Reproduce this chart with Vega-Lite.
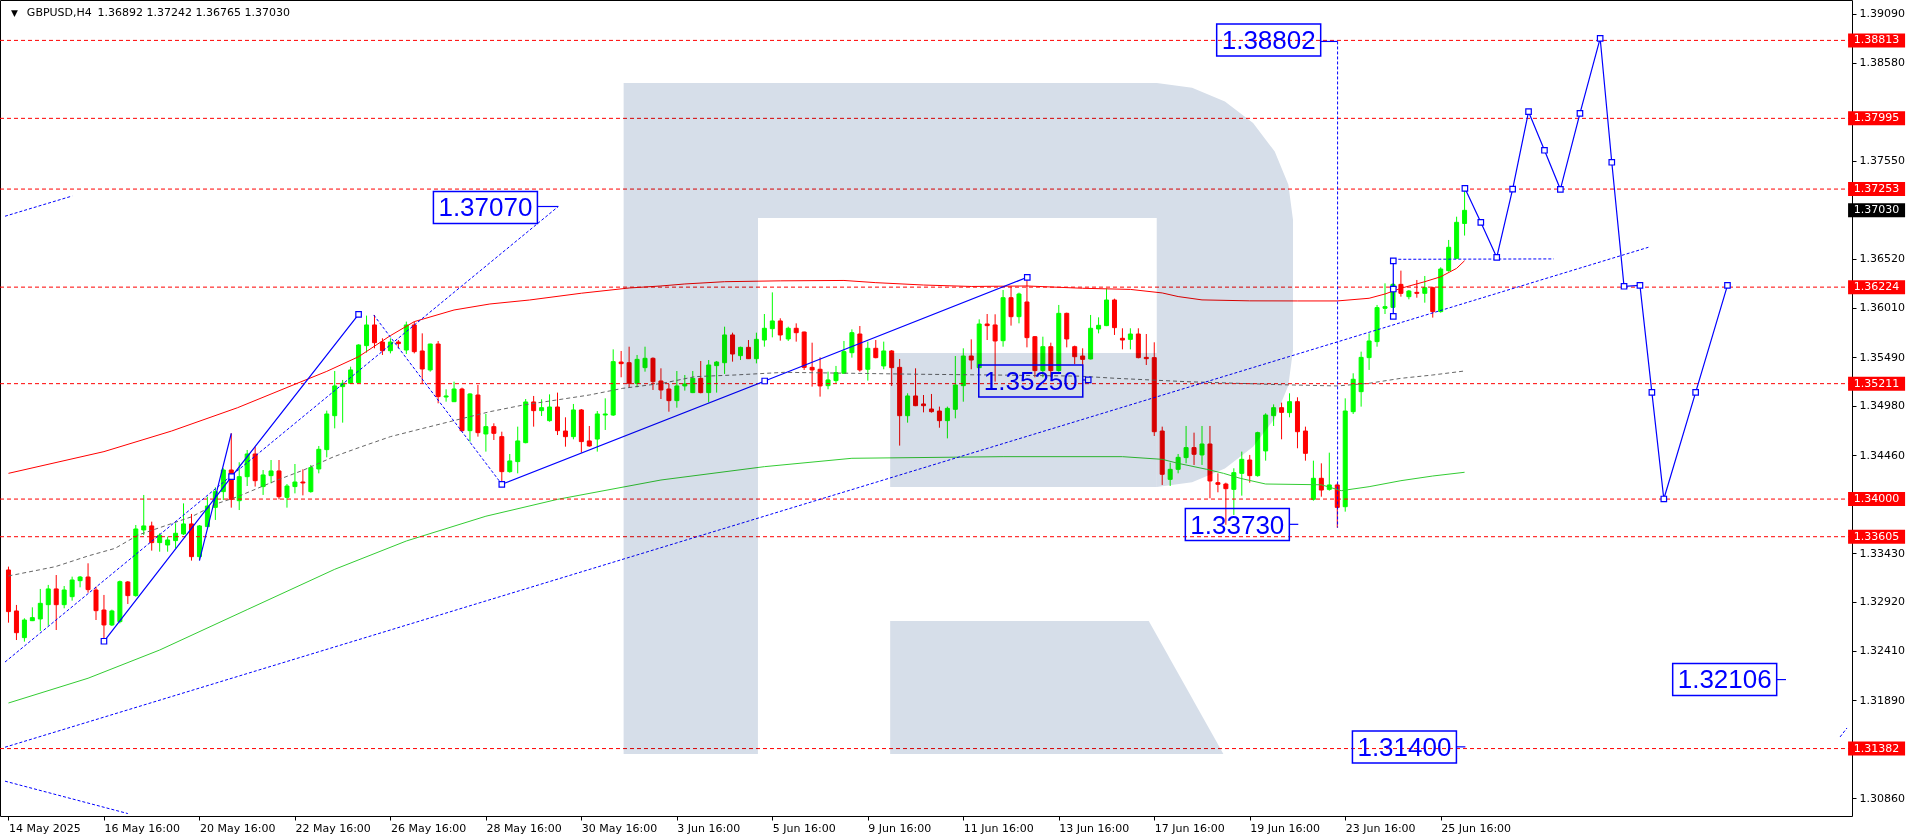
{
  "$schema": "https://vega.github.io/schema/vega-lite/v6.json",
  "width": 1852,
  "height": 816,
  "autosize": {"type": "none"},
  "padding": {"left": 0, "top": 0, "right": 64, "bottom": 24},
  "background": "white",
  "config": {
    "view": {"stroke": "#000000", "strokeWidth": 1},
    "axis": {"grid": false, "domain": false, "tickSize": 4, "tickColor": "#000000", "labelFont": "DejaVu Sans", "labelFontSize": 11, "labelColor": "#000000", "labelFlush": false, "labelOverlap": false},
    "axisX": {"labelAlign": "left", "labelPadding": 2, "labelBaseline": "top"},
    "axisY": {"labelPadding": 3}
  },
  "datasets": {
    "candles": [
      {"i":0,"o":1.33256,"h":1.33291,"l":1.32703,"c":1.32819},
      {"i":1,"o":1.32826,"h":1.32889,"l":1.32521,"c":1.32598},
      {"i":2,"o":1.32546,"h":1.32749,"l":1.32504,"c":1.32731},
      {"i":3,"o":1.32724,"h":1.32864,"l":1.32720,"c":1.32756},
      {"i":4,"o":1.32742,"h":1.33057,"l":1.32616,"c":1.32906},
      {"i":5,"o":1.32892,"h":1.33099,"l":1.32672,"c":1.33057},
      {"i":6,"o":1.33057,"h":1.33203,"l":1.32626,"c":1.32892},
      {"i":7,"o":1.32892,"h":1.33088,"l":1.32854,"c":1.33046},
      {"i":8,"o":1.32976,"h":1.33186,"l":1.32934,"c":1.33151},
      {"i":9,"o":1.33144,"h":1.33193,"l":1.33074,"c":1.33182},
      {"i":10,"o":1.33182,"h":1.33326,"l":1.33018,"c":1.33050},
      {"i":11,"o":1.33046,"h":1.33081,"l":1.32731,"c":1.32829},
      {"i":12,"o":1.32836,"h":1.32994,"l":1.32521,"c":1.32679},
      {"i":13,"o":1.32679,"h":1.32840,"l":1.32668,"c":1.32826},
      {"i":14,"o":1.32714,"h":1.33145,"l":1.32696,"c":1.33133},
      {"i":15,"o":1.33130,"h":1.33140,"l":1.32899,"c":1.32987},
      {"i":16,"o":1.32987,"h":1.33728,"l":1.32976,"c":1.33686},
      {"i":17,"o":1.33676,"h":1.34043,"l":1.33623,"c":1.33718},
      {"i":18,"o":1.33718,"h":1.33763,"l":1.33459,"c":1.33543},
      {"i":19,"o":1.33543,"h":1.33641,"l":1.33448,"c":1.33620},
      {"i":20,"o":1.33518,"h":1.33606,"l":1.33448,"c":1.33571},
      {"i":21,"o":1.33564,"h":1.33746,"l":1.33483,"c":1.33641},
      {"i":22,"o":1.33634,"h":1.33955,"l":1.33623,"c":1.33739},
      {"i":23,"o":1.33739,"h":1.33844,"l":1.33354,"c":1.33396},
      {"i":24,"o":1.33396,"h":1.33728,"l":1.33361,"c":1.33718},
      {"i":25,"o":1.33711,"h":1.34025,"l":1.33704,"c":1.33927},
      {"i":26,"o":1.33913,"h":1.34123,"l":1.33781,"c":1.34078},
      {"i":27,"o":1.34078,"h":1.34323,"l":1.33990,"c":1.34305},
      {"i":28,"o":1.34305,"h":1.34690,"l":1.33910,"c":1.33997},
      {"i":29,"o":1.33983,"h":1.34386,"l":1.33885,"c":1.34235},
      {"i":30,"o":1.34235,"h":1.34515,"l":1.34137,"c":1.34473},
      {"i":31,"o":1.34473,"h":1.34550,"l":1.34131,"c":1.34193},
      {"i":32,"o":1.34131,"h":1.34305,"l":1.34043,"c":1.34253},
      {"i":33,"o":1.34246,"h":1.34410,"l":1.34165,"c":1.34295},
      {"i":34,"o":1.34295,"h":1.34410,"l":1.33997,"c":1.34025},
      {"i":35,"o":1.34018,"h":1.34158,"l":1.33910,"c":1.34137},
      {"i":36,"o":1.34131,"h":1.34368,"l":1.34060,"c":1.34179},
      {"i":37,"o":1.34179,"h":1.34312,"l":1.34039,"c":1.34169},
      {"i":38,"o":1.34078,"h":1.34358,"l":1.34067,"c":1.34330},
      {"i":39,"o":1.34316,"h":1.34557,"l":1.34270,"c":1.34522},
      {"i":40,"o":1.34519,"h":1.34928,"l":1.34438,"c":1.34893},
      {"i":41,"o":1.34875,"h":1.35344,"l":1.34742,"c":1.35187},
      {"i":42,"o":1.35180,"h":1.35250,"l":1.34802,"c":1.35215},
      {"i":43,"o":1.35215,"h":1.35389,"l":1.35208,"c":1.35355},
      {"i":44,"o":1.35222,"h":1.35624,"l":1.35215,"c":1.35617},
      {"i":45,"o":1.35610,"h":1.35925,"l":1.35536,"c":1.35827},
      {"i":46,"o":1.35827,"h":1.35932,"l":1.35582,"c":1.35641},
      {"i":47,"o":1.35648,"h":1.35687,"l":1.35512,"c":1.35557},
      {"i":48,"o":1.35557,"h":1.35687,"l":1.35529,"c":1.35648},
      {"i":49,"o":1.35648,"h":1.35669,"l":1.35582,"c":1.35631},
      {"i":50,"o":1.35564,"h":1.35862,"l":1.35522,"c":1.35827},
      {"i":51,"o":1.35827,"h":1.35862,"l":1.35529,"c":1.35547},
      {"i":52,"o":1.35554,"h":1.35739,"l":1.35215,"c":1.35365},
      {"i":53,"o":1.35355,"h":1.35630,"l":1.35337,"c":1.35627},
      {"i":54,"o":1.35627,"h":1.35659,"l":1.35005,"c":1.35075},
      {"i":55,"o":1.35071,"h":1.35152,"l":1.35022,"c":1.35082},
      {"i":56,"o":1.35022,"h":1.35232,"l":1.35018,"c":1.35155},
      {"i":57,"o":1.35155,"h":1.35169,"l":1.34707,"c":1.34718},
      {"i":58,"o":1.34718,"h":1.35110,"l":1.34603,"c":1.35103},
      {"i":59,"o":1.35092,"h":1.35197,"l":1.34655,"c":1.34697},
      {"i":60,"o":1.34683,"h":1.34893,"l":1.34498,"c":1.34760},
      {"i":61,"o":1.34760,"h":1.34795,"l":1.34620,"c":1.34690},
      {"i":62,"o":1.34655,"h":1.34707,"l":1.34160,"c":1.34288},
      {"i":63,"o":1.34288,"h":1.34473,"l":1.34277,"c":1.34400},
      {"i":64,"o":1.34393,"h":1.34760,"l":1.34270,"c":1.34610},
      {"i":65,"o":1.34592,"h":1.35050,"l":1.34585,"c":1.35019},
      {"i":66,"o":1.35019,"h":1.35082,"l":1.34760,"c":1.34928},
      {"i":67,"o":1.34928,"h":1.35047,"l":1.34872,"c":1.34959},
      {"i":68,"o":1.34823,"h":1.35099,"l":1.34812,"c":1.34966},
      {"i":69,"o":1.34966,"h":1.35117,"l":1.34672,"c":1.34718},
      {"i":70,"o":1.34714,"h":1.34858,"l":1.34550,"c":1.34655},
      {"i":71,"o":1.34655,"h":1.34998,"l":1.34627,"c":1.34935},
      {"i":72,"o":1.34935,"h":1.34945,"l":1.34487,"c":1.34603},
      {"i":73,"o":1.34610,"h":1.34767,"l":1.34550,"c":1.34557},
      {"i":74,"o":1.34630,"h":1.34924,"l":1.34498,"c":1.34893},
      {"i":75,"o":1.34882,"h":1.35057,"l":1.34725,"c":1.34893},
      {"i":76,"o":1.34882,"h":1.35571,"l":1.34872,"c":1.35442},
      {"i":77,"o":1.35438,"h":1.35554,"l":1.35278,"c":1.35421},
      {"i":78,"o":1.35431,"h":1.35599,"l":1.35169,"c":1.35215},
      {"i":79,"o":1.35215,"h":1.35512,"l":1.35173,"c":1.35466},
      {"i":80,"o":1.35379,"h":1.35599,"l":1.35337,"c":1.35477},
      {"i":81,"o":1.35477,"h":1.35487,"l":1.35145,"c":1.35232},
      {"i":82,"o":1.35239,"h":1.35372,"l":1.35050,"c":1.35145},
      {"i":83,"o":1.35155,"h":1.35208,"l":1.34917,"c":1.35033},
      {"i":84,"o":1.35033,"h":1.35344,"l":1.34959,"c":1.35187},
      {"i":85,"o":1.35187,"h":1.35302,"l":1.35138,"c":1.35208},
      {"i":86,"o":1.35117,"h":1.35344,"l":1.35112,"c":1.35267},
      {"i":87,"o":1.35267,"h":1.35449,"l":1.35110,"c":1.35117},
      {"i":88,"o":1.35117,"h":1.35459,"l":1.35015,"c":1.35407},
      {"i":89,"o":1.35400,"h":1.35449,"l":1.35117,"c":1.35438},
      {"i":90,"o":1.35431,"h":1.35809,"l":1.35313,"c":1.35722},
      {"i":91,"o":1.35722,"h":1.35746,"l":1.35442,"c":1.35522},
      {"i":92,"o":1.35505,"h":1.35599,"l":1.35459,"c":1.35592},
      {"i":93,"o":1.35592,"h":1.35669,"l":1.35470,"c":1.35473},
      {"i":94,"o":1.35473,"h":1.35746,"l":1.35424,"c":1.35676},
      {"i":95,"o":1.35669,"h":1.35942,"l":1.35599,"c":1.35792},
      {"i":96,"o":1.35788,"h":1.36169,"l":1.35697,"c":1.35869},
      {"i":97,"o":1.35869,"h":1.35897,"l":1.35662,"c":1.35722},
      {"i":98,"o":1.35680,"h":1.35809,"l":1.35659,"c":1.35792},
      {"i":99,"o":1.35792,"h":1.35844,"l":1.35652,"c":1.35746},
      {"i":100,"o":1.35753,"h":1.35757,"l":1.35355,"c":1.35382},
      {"i":101,"o":1.35382,"h":1.35641,"l":1.35180,"c":1.35355},
      {"i":102,"o":1.35362,"h":1.35487,"l":1.35075,"c":1.35187},
      {"i":103,"o":1.35190,"h":1.35337,"l":1.35152,"c":1.35250},
      {"i":104,"o":1.35243,"h":1.35397,"l":1.35208,"c":1.35327},
      {"i":105,"o":1.35320,"h":1.35659,"l":1.35313,"c":1.35547},
      {"i":106,"o":1.35536,"h":1.35781,"l":1.35484,"c":1.35746},
      {"i":107,"o":1.35732,"h":1.35816,"l":1.35337,"c":1.35355},
      {"i":108,"o":1.35362,"h":1.35652,"l":1.35243,"c":1.35582},
      {"i":109,"o":1.35582,"h":1.35669,"l":1.35477,"c":1.35484},
      {"i":110,"o":1.35397,"h":1.35652,"l":1.35362,"c":1.35554},
      {"i":111,"o":1.35554,"h":1.35564,"l":1.35187,"c":1.35379},
      {"i":112,"o":1.35382,"h":1.35470,"l":1.34561,"c":1.34875},
      {"i":113,"o":1.34875,"h":1.35110,"l":1.34802,"c":1.35082},
      {"i":114,"o":1.35082,"h":1.35372,"l":1.34975,"c":1.34980},
      {"i":115,"o":1.34998,"h":1.35092,"l":1.34910,"c":1.34980},
      {"i":116,"o":1.34945,"h":1.35103,"l":1.34907,"c":1.34917},
      {"i":117,"o":1.34924,"h":1.34970,"l":1.34749,"c":1.34823},
      {"i":118,"o":1.34823,"h":1.34970,"l":1.34637,"c":1.34952},
      {"i":119,"o":1.34942,"h":1.35501,"l":1.34847,"c":1.35197},
      {"i":120,"o":1.35190,"h":1.35582,"l":1.35022,"c":1.35501},
      {"i":121,"o":1.35501,"h":1.35676,"l":1.35362,"c":1.35459},
      {"i":122,"o":1.35379,"h":1.35886,"l":1.35375,"c":1.35837},
      {"i":123,"o":1.35837,"h":1.35942,"l":1.35669,"c":1.35820},
      {"i":124,"o":1.35827,"h":1.35939,"l":1.35232,"c":1.35659},
      {"i":125,"o":1.35662,"h":1.36194,"l":1.35599,"c":1.36113},
      {"i":126,"o":1.36113,"h":1.36229,"l":1.35820,"c":1.35914},
      {"i":127,"o":1.35914,"h":1.36166,"l":1.35844,"c":1.36152},
      {"i":128,"o":1.36068,"h":1.36327,"l":1.35592,"c":1.35694},
      {"i":129,"o":1.35704,"h":1.35711,"l":1.35278,"c":1.35348},
      {"i":130,"o":1.35348,"h":1.35704,"l":1.35278,"c":1.35599},
      {"i":131,"o":1.35599,"h":1.35641,"l":1.35278,"c":1.35348},
      {"i":132,"o":1.35348,"h":1.36037,"l":1.35337,"c":1.35949},
      {"i":133,"o":1.35949,"h":1.35956,"l":1.35592,"c":1.35680},
      {"i":134,"o":1.35599,"h":1.35610,"l":1.35417,"c":1.35494},
      {"i":135,"o":1.35501,"h":1.35582,"l":1.35348,"c":1.35466},
      {"i":136,"o":1.35470,"h":1.35932,"l":1.35466,"c":1.35792},
      {"i":137,"o":1.35785,"h":1.35907,"l":1.35739,"c":1.35823},
      {"i":138,"o":1.35820,"h":1.36211,"l":1.35815,"c":1.36089},
      {"i":139,"o":1.36089,"h":1.36103,"l":1.35722,"c":1.35799},
      {"i":140,"o":1.35687,"h":1.35792,"l":1.35571,"c":1.35669},
      {"i":141,"o":1.35676,"h":1.35792,"l":1.35571,"c":1.35732},
      {"i":142,"o":1.35732,"h":1.35792,"l":1.35477,"c":1.35484},
      {"i":143,"o":1.35487,"h":1.35732,"l":1.35407,"c":1.35473},
      {"i":144,"o":1.35484,"h":1.35645,"l":1.34662,"c":1.34707},
      {"i":145,"o":1.34714,"h":1.34760,"l":1.34148,"c":1.34260},
      {"i":146,"o":1.34207,"h":1.34382,"l":1.34137,"c":1.34312},
      {"i":147,"o":1.34312,"h":1.34473,"l":1.34270,"c":1.34438},
      {"i":148,"o":1.34435,"h":1.34767,"l":1.34375,"c":1.34540},
      {"i":149,"o":1.34540,"h":1.34697,"l":1.34358,"c":1.34470},
      {"i":150,"o":1.34463,"h":1.34767,"l":1.34358,"c":1.34578},
      {"i":151,"o":1.34578,"h":1.34767,"l":1.34008,"c":1.34190},
      {"i":152,"o":1.34172,"h":1.34270,"l":1.34071,"c":1.34155},
      {"i":153,"o":1.34158,"h":1.34172,"l":1.33730,"c":1.34109},
      {"i":154,"o":1.34102,"h":1.34323,"l":1.33833,"c":1.34277},
      {"i":155,"o":1.34270,"h":1.34498,"l":1.34036,"c":1.34417},
      {"i":156,"o":1.34410,"h":1.34463,"l":1.34172,"c":1.34246},
      {"i":157,"o":1.34246,"h":1.34707,"l":1.34235,"c":1.34697},
      {"i":158,"o":1.34505,"h":1.34900,"l":1.34403,"c":1.34882},
      {"i":159,"o":1.34875,"h":1.34994,"l":1.34767,"c":1.34959},
      {"i":160,"o":1.34959,"h":1.35012,"l":1.34627,"c":1.34910},
      {"i":161,"o":1.34907,"h":1.35110,"l":1.34858,"c":1.35022},
      {"i":162,"o":1.35022,"h":1.35068,"l":1.34533,"c":1.34707},
      {"i":163,"o":1.34714,"h":1.34760,"l":1.34403,"c":1.34480},
      {"i":164,"o":1.33997,"h":1.34403,"l":1.33983,"c":1.34218},
      {"i":165,"o":1.34218,"h":1.34375,"l":1.34025,"c":1.34095},
      {"i":166,"o":1.34102,"h":1.34487,"l":1.34088,"c":1.34148},
      {"i":167,"o":1.34148,"h":1.34165,"l":1.33700,"c":1.33913},
      {"i":168,"o":1.33920,"h":1.35057,"l":1.33868,"c":1.34924},
      {"i":169,"o":1.34917,"h":1.35320,"l":1.34893,"c":1.35257},
      {"i":170,"o":1.35127,"h":1.35547,"l":1.34970,"c":1.35487},
      {"i":171,"o":1.35484,"h":1.35739,"l":1.35355,"c":1.35659},
      {"i":172,"o":1.35652,"h":1.36037,"l":1.35599,"c":1.36009},
      {"i":173,"o":1.36002,"h":1.36264,"l":1.35942,"c":1.36019},
      {"i":174,"o":1.36012,"h":1.36264,"l":1.36005,"c":1.36253},
      {"i":175,"o":1.36253,"h":1.36397,"l":1.36124,"c":1.36159},
      {"i":176,"o":1.36124,"h":1.36194,"l":1.36096,"c":1.36183},
      {"i":177,"o":1.36169,"h":1.36299,"l":1.36113,"c":1.36159},
      {"i":178,"o":1.36159,"h":1.36341,"l":1.36061,"c":1.36218},
      {"i":179,"o":1.36218,"h":1.36229,"l":1.35904,"c":1.35967},
      {"i":180,"o":1.35967,"h":1.36432,"l":1.35956,"c":1.36414},
      {"i":181,"o":1.36397,"h":1.36719,"l":1.36386,"c":1.36642},
      {"i":182,"o":1.36526,"h":1.36963,"l":1.36520,"c":1.36904},
      {"i":183,"o":1.36892,"h":1.37242,"l":1.36765,"c":1.37030}
    ],
    "redma": [
      {"i":0,"v":1.34270},{"i":12,"v":1.34498},{"i":20.5,"v":1.34714},{"i":28.8,"v":1.34959},{"i":36.3,"v":1.35215},{"i":40,"v":1.35340},{"i":44,"v":1.35494},{"i":48,"v":1.35715},{"i":51,"v":1.35862},{"i":56,"v":1.35984},{"i":60.5,"v":1.36047},{"i":65.5,"v":1.36089},{"i":72,"v":1.36160},{"i":78,"v":1.36215},{"i":82,"v":1.36236},{"i":85,"v":1.36257},{"i":90,"v":1.36281},{"i":97,"v":1.36290},{"i":105,"v":1.36294},{"i":109,"v":1.36271},{"i":115,"v":1.36246},{"i":121,"v":1.36231},{"i":128,"v":1.36236},{"i":135,"v":1.36212},{"i":141,"v":1.36200},{"i":145,"v":1.36163},{"i":147,"v":1.36125},{"i":150,"v":1.36090},{"i":156,"v":1.36080},{"i":162,"v":1.36079},{"i":167,"v":1.36079},{"i":171,"v":1.36107},{"i":173,"v":1.36152},{"i":175,"v":1.36212},{"i":178,"v":1.36281},{"i":180,"v":1.36333},{"i":182,"v":1.36421},{"i":183,"v":1.36501}
    ],
    "greenma": [
      {"i":0,"v":1.31860},{"i":10,"v":1.32120},{"i":19,"v":1.32416},{"i":30,"v":1.32840},{"i":41,"v":1.33263},{"i":50,"v":1.33560},{"i":60,"v":1.33820},{"i":69,"v":1.33997},{"i":82,"v":1.34200},{"i":95,"v":1.34340},{"i":106,"v":1.34428},{"i":125,"v":1.34445},{"i":140,"v":1.34445},{"i":145,"v":1.34417},{"i":147,"v":1.34375},{"i":150.6,"v":1.34312},{"i":152.7,"v":1.34270},{"i":154.8,"v":1.34218},{"i":158,"v":1.34158},{"i":165,"v":1.34150},{"i":167.5,"v":1.34088},{"i":171,"v":1.34130},{"i":175,"v":1.34193},{"i":179,"v":1.34242},{"i":183,"v":1.34281}
    ],
    "grayma": [
      {"i":0,"v":1.33193},{"i":5.9,"v":1.33291},{"i":10,"v":1.33403},{"i":13.4,"v":1.33483},{"i":16.3,"v":1.33623},{"i":23,"v":1.33814},{"i":26.3,"v":1.33955},{"i":28.8,"v":1.34025},{"i":33.8,"v":1.34200},{"i":37.1,"v":1.34305},{"i":40.9,"v":1.34445},{"i":43.8,"v":1.34533},{"i":48,"v":1.34655},{"i":52.1,"v":1.34742},{"i":56.3,"v":1.34830},{"i":60.5,"v":1.34917},{"i":64.7,"v":1.34987},{"i":68.9,"v":1.35040},{"i":73,"v":1.35092},{"i":77.2,"v":1.35162},{"i":82.2,"v":1.35215},{"i":86.3,"v":1.35285},{"i":91.3,"v":1.35302},{"i":97.5,"v":1.35330},{"i":105.9,"v":1.35320},{"i":114.2,"v":1.35310},{"i":124,"v":1.35302},{"i":134.6,"v":1.35290},{"i":139.2,"v":1.35267},{"i":148,"v":1.35232},{"i":160,"v":1.35200},{"i":167,"v":1.35187},{"i":171,"v":1.35215},{"i":175,"v":1.35267},{"i":179,"v":1.35302},{"i":183,"v":1.35344}
    ],
    "levels": [
      {"lv":1.38813},{"lv":1.37995},{"lv":1.37253},{"lv":1.36224},{"lv":1.35211},{"lv":1.34000},{"lv":1.33605},{"lv":1.31382}
    ],
    "current": [{"lv":1.37030}],
    "bdash": [
      {"id":"trend","i":-0.4375,"v":1.31396},{"id":"trend","i":206.1,"v":1.36642},
      {"id":"up","i":-0.4375,"v":1.36968},{"id":"up","i":8,"v":1.37180},
      {"id":"low","i":-0.4375,"v":1.31040},{"id":"low","i":15,"v":1.30700},
      {"id":"l137","i":-0.4375,"v":1.32290},{"id":"l137","i":69.1,"v":1.37070},
      {"id":"desc","i":45.9,"v":1.35932},{"id":"desc","i":62,"v":1.34155},
      {"id":"hz","i":174.04,"v":1.36516},{"id":"hz","i":194.2,"v":1.36520},
      {"id":"vt","i":167.04,"v":1.38802},{"id":"vt","i":167.04,"v":1.33700},
      {"id":"rx","i":230.19,"v":1.31504},{"id":"rx","i":231.06,"v":1.31598}
    ],
    "bsolid": [
      {"id":"L1","i":12,"v":1.32508},{"id":"L1","i":28.04,"v":1.34235},{"id":"L1","i":44,"v":1.35939},
      {"id":"L2","i":24,"v":1.33354},{"id":"L2","i":28,"v":1.34690},
      {"id":"L3","i":62,"v":1.34155},{"id":"L3","i":95.04,"v":1.35239},{"id":"L3","i":128.04,"v":1.36327},
      {"id":"V","i":174.04,"v":1.35918},{"id":"V","i":174.04,"v":1.36204},{"id":"V","i":174.04,"v":1.36500},
      {"id":"F","i":183.04,"v":1.37261},{"id":"F","i":185.04,"v":1.36904},{"id":"F","i":187.04,"v":1.36537},{"id":"F","i":189.04,"v":1.37253},{"id":"F","i":191.04,"v":1.38065},{"id":"F","i":193.04,"v":1.37660},{"id":"F","i":195.04,"v":1.37250},{"id":"F","i":197.5,"v":1.38047},{"id":"F","i":200.04,"v":1.38835},{"id":"F","i":201.5,"v":1.37534},{"id":"F","i":203.04,"v":1.36233},{"id":"F","i":205.04,"v":1.36243},{"id":"F","i":206.54,"v":1.35120},{"id":"F","i":208.04,"v":1.34001},{"id":"F","i":212.04,"v":1.35120},{"id":"F","i":216.04,"v":1.36243},
      {"id":"a","i":66.44,"v":1.37070},{"id":"a","i":69.1,"v":1.37070},
      {"id":"b","i":134.94,"v":1.35250},{"id":"b","i":135.7,"v":1.35250},
      {"id":"c","i":160.94,"v":1.33735},{"id":"c","i":162.1,"v":1.33735},
      {"id":"d","i":164.9,"v":1.38802},{"id":"d","i":167.04,"v":1.38802},
      {"id":"e","i":222.19,"v":1.32106},{"id":"e","i":223.4,"v":1.32106},
      {"id":"f","i":181.94,"v":1.31400},{"id":"f","i":183.1,"v":1.31400}
    ],
    "bsq": [
      {"i":12,"v":1.32508},{"i":28.04,"v":1.34235},{"i":44,"v":1.35939},
      {"i":62,"v":1.34155},{"i":95.04,"v":1.35239},{"i":128.04,"v":1.36327},
      {"i":174.04,"v":1.35918},{"i":174.04,"v":1.36204},{"i":174.04,"v":1.36500},
      {"i":183.04,"v":1.37261},{"i":185.04,"v":1.36904},{"i":187.04,"v":1.36537},{"i":189.04,"v":1.37253},{"i":191.04,"v":1.38065},{"i":193.04,"v":1.37660},{"i":195.04,"v":1.37250},{"i":197.5,"v":1.38047},{"i":200.04,"v":1.38835},{"i":201.5,"v":1.37534},{"i":203.04,"v":1.36233},{"i":205.04,"v":1.36243},{"i":206.54,"v":1.35120},{"i":208.04,"v":1.34001},{"i":212.04,"v":1.35120},{"i":216.04,"v":1.36243},
      {"i":135.7,"v":1.35250}
    ],
    "tbox": [
      {"t":"1.37070","i":59.94,"v":1.37060},
      {"t":"1.35250","i":128.48,"v":1.35239},
      {"t":"1.33730","i":154.44,"v":1.33733},
      {"t":"1.38802","i":158.38,"v":1.38817},
      {"t":"1.32106","i":215.69,"v":1.32107},
      {"t":"1.31400","i":175.44,"v":1.31398}
    ],
    "wm": [
      {"part":"A","i":77.31,"top":1.38366,"bot":1.31325},
      {"part":"A","i":94.19,"top":1.38366,"bot":1.31325},
      {"part":"A","i":94.2,"top":1.38366,"bot":1.36949},
      {"part":"A","i":144.31,"top":1.38366,"bot":1.36949},
      {"part":"A","i":144.32,"top":1.38366,"bot":1.34127},
      {"part":"A","i":148.75,"top":1.38317,"bot":1.34176},
      {"part":"A","i":152.88,"top":1.38173,"bot":1.34320},
      {"part":"A","i":156.42,"top":1.37945,"bot":1.34548},
      {"part":"A","i":159.14,"top":1.37647,"bot":1.34846},
      {"part":"A","i":160.85,"top":1.37301,"bot":1.35192},
      {"part":"A","i":161.44,"top":1.36928,"bot":1.35564},
      {"part":"B","i":110.81,"top":1.35533,"bot":1.34127},
      {"part":"B","i":144.31,"top":1.35533,"bot":1.34127},
      {"part":"C","i":110.81,"top":1.32721,"bot":1.31325},
      {"part":"C","i":143.31,"top":1.32721,"bot":1.31325},
      {"part":"C","i":152.69,"top":1.31325,"bot":1.31325}
    ]
  },
  "layer": [
    {
      "data": {"name": "candles"},
      "mark": {"type": "rule", "strokeWidth": 1},
      "encoding": {
        "x": {"field": "i", "type": "quantitative", "scale": {"domain": [-0.4375, 231.0625], "nice": false, "zero": false},
          "axis": {"orient": "bottom", "title": null, "values": [0,12,24,36,48,60,72,84,96,108,120,132,144,156,168,180], "labelExpr": "['14 May 2025','16 May 16:00','20 May 16:00','22 May 16:00','26 May 16:00','28 May 16:00','30 May 16:00','3 Jun 16:00','5 Jun 16:00','9 Jun 16:00','11 Jun 16:00','13 Jun 16:00','17 Jun 16:00','19 Jun 16:00','23 Jun 16:00','25 Jun 16:00'][round(datum.value/12)]"}},
        "y": {"field": "l", "type": "quantitative", "scale": {"domain": [1.306744, 1.392369], "nice": false, "zero": false},
          "axis": {"orient": "right", "title": null, "values": [1.39090,1.38580,1.37550,1.36520,1.36010,1.35490,1.34980,1.34460,1.33430,1.32920,1.32410,1.31890,1.30860], "format": ".5f"}},
        "y2": {"field": "h"},
        "color": {"condition": {"test": "datum.c >= datum.o", "value": "#00ff00"}, "value": "#ff0000"}
      }
    },
    {
      "data": {"name": "candles"},
      "mark": {"type": "bar", "size": 4, "strokeWidth": 1},
      "encoding": {
        "x": {"field": "i", "type": "quantitative", "scale": {"domain": [-0.4375, 231.0625], "nice": false, "zero": false}, "axis": {"orient": "bottom", "title": null}},
        "y": {"field": "o", "type": "quantitative", "scale": {"domain": [1.306744, 1.392369], "nice": false, "zero": false}, "axis": {"orient": "right", "title": null}},
        "y2": {"field": "c"},
        "fill": {"condition": {"test": "datum.c >= datum.o", "value": "#00ff00"}, "value": "#ff0000"},
        "stroke": {"condition": {"test": "datum.c >= datum.o", "value": "#00ff00"}, "value": "#ff0000"}
      }
    },
    {
      "data": {"name": "grayma"},
      "mark": {"type": "line", "color": "#666666", "strokeWidth": 1, "strokeDash": [4, 3]},
      "encoding": {
        "x": {"field": "i", "type": "quantitative", "scale": {"domain": [-0.4375, 231.0625], "nice": false, "zero": false}, "axis": {"orient": "bottom", "title": null}},
        "y": {"field": "v", "type": "quantitative", "scale": {"domain": [1.306744, 1.392369], "nice": false, "zero": false}, "axis": {"orient": "right", "title": null}}
      }
    },
    {
      "data": {"name": "redma"},
      "mark": {"type": "line", "color": "#ff0000", "strokeWidth": 1},
      "encoding": {
        "x": {"field": "i", "type": "quantitative", "scale": {"domain": [-0.4375, 231.0625], "nice": false, "zero": false}, "axis": {"orient": "bottom", "title": null}},
        "y": {"field": "v", "type": "quantitative", "scale": {"domain": [1.306744, 1.392369], "nice": false, "zero": false}, "axis": {"orient": "right", "title": null}}
      }
    },
    {
      "data": {"name": "greenma"},
      "mark": {"type": "line", "color": "#33cc33", "strokeWidth": 1},
      "encoding": {
        "x": {"field": "i", "type": "quantitative", "scale": {"domain": [-0.4375, 231.0625], "nice": false, "zero": false}, "axis": {"orient": "bottom", "title": null}},
        "y": {"field": "v", "type": "quantitative", "scale": {"domain": [1.306744, 1.392369], "nice": false, "zero": false}, "axis": {"orient": "right", "title": null}}
      }
    },
    {
      "data": {"name": "levels"},
      "mark": {"type": "rule", "color": "#ff0000", "strokeWidth": 1, "strokeDash": [4, 3]},
      "encoding": {
        "y": {"field": "lv", "type": "quantitative", "scale": {"domain": [1.306744, 1.392369], "nice": false, "zero": false}, "axis": {"orient": "right", "title": null}}
      }
    },
    {
      "data": {"name": "bdash"},
      "mark": {"type": "line", "color": "#0000ff", "strokeWidth": 1, "strokeDash": [3, 2]},
      "encoding": {
        "x": {"field": "i", "type": "quantitative", "scale": {"domain": [-0.4375, 231.0625], "nice": false, "zero": false}, "axis": {"orient": "bottom", "title": null}},
        "y": {"field": "v", "type": "quantitative", "scale": {"domain": [1.306744, 1.392369], "nice": false, "zero": false}, "axis": {"orient": "right", "title": null}},
        "detail": {"field": "id"}
      }
    },
    {
      "data": {"name": "bsolid"},
      "mark": {"type": "line", "color": "#0000ff", "strokeWidth": 1.2},
      "encoding": {
        "x": {"field": "i", "type": "quantitative", "scale": {"domain": [-0.4375, 231.0625], "nice": false, "zero": false}, "axis": {"orient": "bottom", "title": null}},
        "y": {"field": "v", "type": "quantitative", "scale": {"domain": [1.306744, 1.392369], "nice": false, "zero": false}, "axis": {"orient": "right", "title": null}},
        "detail": {"field": "id"}
      }
    },
    {
      "data": {"name": "bsq"},
      "mark": {"type": "point", "shape": "square", "size": 30, "filled": true, "fill": "#ffffff", "stroke": "#0000ff", "strokeWidth": 1.2, "opacity": 1},
      "encoding": {
        "x": {"field": "i", "type": "quantitative", "scale": {"domain": [-0.4375, 231.0625], "nice": false, "zero": false}, "axis": {"orient": "bottom", "title": null}},
        "y": {"field": "v", "type": "quantitative", "scale": {"domain": [1.306744, 1.392369], "nice": false, "zero": false}, "axis": {"orient": "right", "title": null}}
      }
    },
    {
      "data": {"name": "tbox"},
      "mark": {"type": "point", "shape": "M-1,-0.3077H1V0.3077H-1Z", "size": 10816, "filled": false, "stroke": "#0000ff", "strokeWidth": 1.5, "opacity": 1},
      "encoding": {
        "x": {"field": "i", "type": "quantitative", "scale": {"domain": [-0.4375, 231.0625], "nice": false, "zero": false}, "axis": {"orient": "bottom", "title": null}},
        "y": {"field": "v", "type": "quantitative", "scale": {"domain": [1.306744, 1.392369], "nice": false, "zero": false}, "axis": {"orient": "right", "title": null}}
      }
    },
    {
      "data": {"name": "tbox"},
      "mark": {"type": "text", "font": "Liberation Sans", "fontSize": 26, "color": "#0000ff", "align": "center", "baseline": "middle", "dy": 1},
      "encoding": {
        "x": {"field": "i", "type": "quantitative", "scale": {"domain": [-0.4375, 231.0625], "nice": false, "zero": false}, "axis": {"orient": "bottom", "title": null}},
        "y": {"field": "v", "type": "quantitative", "scale": {"domain": [1.306744, 1.392369], "nice": false, "zero": false}, "axis": {"orient": "right", "title": null}},
        "text": {"field": "t"}
      }
    },
    {
      "data": {"name": "wm"},
      "mark": {"type": "area", "color": "#d6dee9", "opacity": 1, "blend": "multiply"},
      "encoding": {
        "x": {"field": "i", "type": "quantitative", "scale": {"domain": [-0.4375, 231.0625], "nice": false, "zero": false}, "axis": {"orient": "bottom", "title": null}},
        "y": {"field": "top", "type": "quantitative", "stack": null, "scale": {"domain": [1.306744, 1.392369], "nice": false, "zero": false}, "axis": {"orient": "right", "title": null}},
        "y2": {"field": "bot"},
        "detail": {"field": "part"}
      }
    },
    {
      "data": {"name": "levels"},
      "mark": {"type": "point", "shape": "M-1,-0.2456H1V0.2456H-1Z", "size": 3249, "filled": true, "color": "#ff0000", "opacity": 1, "strokeWidth": 0},
      "encoding": {
        "x": {"datum": 234.78, "type": "quantitative", "scale": {"domain": [-0.4375, 231.0625], "nice": false, "zero": false}, "axis": {"orient": "bottom", "title": null}},
        "y": {"field": "lv", "type": "quantitative", "scale": {"domain": [1.306744, 1.392369], "nice": false, "zero": false}, "axis": {"orient": "right", "title": null}}
      }
    },
    {
      "data": {"name": "current"},
      "mark": {"type": "point", "shape": "M-1,-0.2456H1V0.2456H-1Z", "size": 3249, "filled": true, "color": "#000000", "opacity": 1, "strokeWidth": 0},
      "encoding": {
        "x": {"datum": 234.78, "type": "quantitative", "scale": {"domain": [-0.4375, 231.0625], "nice": false, "zero": false}, "axis": {"orient": "bottom", "title": null}},
        "y": {"field": "lv", "type": "quantitative", "scale": {"domain": [1.306744, 1.392369], "nice": false, "zero": false}, "axis": {"orient": "right", "title": null}}
      }
    },
    {
      "data": {"name": "levels"},
      "mark": {"type": "text", "font": "DejaVu Sans", "fontSize": 11, "color": "#ffffff", "align": "center", "baseline": "middle"},
      "encoding": {
        "x": {"datum": 234.78, "type": "quantitative", "scale": {"domain": [-0.4375, 231.0625], "nice": false, "zero": false}, "axis": {"orient": "bottom", "title": null}},
        "y": {"field": "lv", "type": "quantitative", "scale": {"domain": [1.306744, 1.392369], "nice": false, "zero": false}, "axis": {"orient": "right", "title": null}},
        "text": {"field": "lv", "type": "quantitative", "format": ".5f"}
      }
    },
    {
      "data": {"name": "current"},
      "mark": {"type": "text", "font": "DejaVu Sans", "fontSize": 11, "color": "#ffffff", "align": "center", "baseline": "middle"},
      "encoding": {
        "x": {"datum": 234.78, "type": "quantitative", "scale": {"domain": [-0.4375, 231.0625], "nice": false, "zero": false}, "axis": {"orient": "bottom", "title": null}},
        "y": {"field": "lv", "type": "quantitative", "scale": {"domain": [1.306744, 1.392369], "nice": false, "zero": false}, "axis": {"orient": "right", "title": null}},
        "text": {"field": "lv", "type": "quantitative", "format": ".5f"}
      }
    },
    {
      "data": {"values": [{"t": "▼"}]},
      "mark": {"type": "text", "font": "DejaVu Sans", "fontSize": 9, "color": "#000000", "align": "left", "baseline": "middle"},
      "encoding": {
        "x": {"datum": 0.31, "type": "quantitative", "scale": {"domain": [-0.4375, 231.0625], "nice": false, "zero": false}, "axis": {"orient": "bottom", "title": null}},
        "y": {"datum": 1.39100, "type": "quantitative", "scale": {"domain": [1.306744, 1.392369], "nice": false, "zero": false}, "axis": {"orient": "right", "title": null}},
        "text": {"field": "t"}
      }
    },
    {
      "data": {"values": [{"t": "GBPUSD,H4"}]},
      "mark": {"type": "text", "font": "DejaVu Sans", "fontSize": 11, "color": "#000000", "align": "left", "baseline": "middle"},
      "encoding": {
        "x": {"datum": 2.31, "type": "quantitative", "scale": {"domain": [-0.4375, 231.0625], "nice": false, "zero": false}, "axis": {"orient": "bottom", "title": null}},
        "y": {"datum": 1.39100, "type": "quantitative", "scale": {"domain": [1.306744, 1.392369], "nice": false, "zero": false}, "axis": {"orient": "right", "title": null}},
        "text": {"field": "t"}
      }
    },
    {
      "data": {"values": [{"t": "1.36892 1.37242 1.36765 1.37030"}]},
      "mark": {"type": "text", "font": "DejaVu Sans", "fontSize": 11, "color": "#000000", "align": "left", "baseline": "middle"},
      "encoding": {
        "x": {"datum": 11.19, "type": "quantitative", "scale": {"domain": [-0.4375, 231.0625], "nice": false, "zero": false}, "axis": {"orient": "bottom", "title": null}},
        "y": {"datum": 1.39100, "type": "quantitative", "scale": {"domain": [1.306744, 1.392369], "nice": false, "zero": false}, "axis": {"orient": "right", "title": null}},
        "text": {"field": "t"}
      }
    }
  ]
}
